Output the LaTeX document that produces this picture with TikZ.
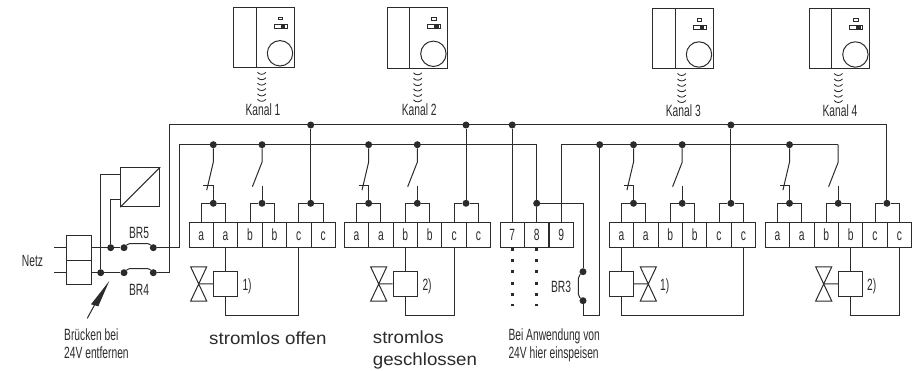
\documentclass[tikz,border=0pt]{standalone}
\usepackage{fontspec}
\setmainfont{Liberation Sans}
\newfontfamily\narrowf[FakeStretch=0.63]{Liberation Sans}
\newfontfamily\widef[FakeStretch=1.07]{Liberation Sans}
\definecolor{ink}{gray}{0.17}
\tikzset{
  wire/.style={draw=ink,line width=1pt},
  dot/.style={circle,fill=ink,inner sep=0pt,minimum size=7pt},
  cell/.style={draw=ink,line width=1pt,inner sep=0pt,minimum width=24.4pt,minimum height=24.4pt,text height=10.5pt,text depth=0pt,text=ink,font=\narrowf\fontsize{16.3}{18}\selectfont},
  coil/.style={draw=ink,line width=1pt,inner sep=0pt,minimum width=24.4pt,minimum height=24.4pt},
  lab/.style={inner sep=0pt,text=ink,font=\narrowf\fontsize{16.3}{18}\selectfont},
  biglab/.style={inner sep=0pt,text=ink,font=\widef\fontsize{17.5}{20}\selectfont},
  dotline/.style={draw=ink,line width=3pt,dash pattern=on 3pt off 8.35pt},
  thin box/.style={draw=ink,line width=1pt,inner sep=0pt},
}
\newcommand{\thermo}[4]{% left x, top y, squiggle offset, name
  \node[thin box,anchor=north west,minimum width=60.5pt,minimum height=60.5pt] (#4) at (#1,#2) {};
  \draw[wire] ({#1+23},#2) -- ({#1+23},{#2+60.5});
  \draw[wire] ({#1+46.7},{#2+46.5}) circle[radius=12.7];
  \draw[wire,line width=0.8pt] ({#1+41},{#2+17.2}) rectangle ({#1+54},{#2+21.2});
  \fill[ink] ({#1+47.5},{#2+17.2}) rectangle ({#1+52},{#2+21.2});
  \draw[wire,line width=0.8pt] ({#1+45},{#2+10.6}) rectangle ({#1+49.5},{#2+13});
  \foreach \q in {0,...,5}
    \draw[wire,line width=0.85pt] ({#1+#3-4.2},{#2+65.5+5.4*\q}) .. controls ({#1+#3-2},{#2+68.2+5.4*\q}) and ({#1+#3+2},{#2+68.2+5.4*\q}) .. ({#1+#3+4.2},{#2+65.5+5.4*\q});
}
\begin{document}
\begin{tikzpicture}[x=1pt,y=-1pt]
\useasboundingbox (0,0) rectangle (917,371);
% thermostats
\thermo{233.3}{6.8}{28.4}{th1}
\thermo{386.7}{7.3}{31}{th2}
\thermo{652.3}{8}{29.4}{th3}
\thermo{808.7}{8}{29.6}{th4}
\node[lab,anchor=base] (k1) at (263,116) {Kanal 1};
\node[lab,anchor=base] (k2) at (419.3,116) {Kanal 2};
\node[lab,anchor=base] (k3) at (683.3,116.5) {Kanal 3};
\node[lab,anchor=base] (k4) at (840,116.5) {Kanal 4};
% terminal groups, rail dots and bracket dots
\foreach \g/\s/\st in {1/189/dot,2/344.3/dot,3/609.2/dot,4/765.2/coordinate}{
  \foreach \i/\t in {1/a,2/a,3/b,4/b,5/c,6/c}
    \node[cell] (g\g c\i) at ({\s+12.2+24.4*(\i-1)},235) {\t};
  \node[dot] (r\g a) at ({\s+24.3},144.7) {};
  \node[\st] (r\g b) at ({\s+73},144.7) {};
  \node[\st] (r\g c) at ({\s+121.7},125) {};
  \node[dot] (b\g a) at ({\s+24.3},203.3) {};
  \node[dot] (b\g b) at ({\s+73},203.3) {};
  \node[dot] (b\g c) at ({\s+121.7},203.3) {};
  \draw[wire] (g\g c1.north) |- (b\g a) -| (g\g c2.north);
  \draw[wire] (g\g c3.north) |- (b\g b) -| (g\g c4.north);
  \draw[wire] (g\g c5.north) |- (b\g c) -| (g\g c6.north);
  \draw[wire] (r\g c) -- (b\g c);
  % normally closed contact
  \draw[wire] (r\g a) -- ++(0,17.5) -- ++(-6.6,28);
  \draw[wire] (b\g a) -- ++(0,-17.3) -- ++(-10,0);
  % normally open contact
  \draw[wire] (r\g b) -- ++(0,17.5) -- ++(-9.6,24.5);
  \draw[wire] (b\g b) -- ++(0,-17.3);
}
% coils and valves
\foreach \g/\from/\ret/\vx/\lx/\lb in {1/2/5/198.7/242.3/1),2/3/5/378.7/422.3/2),3/1/6/648.3/660/1),4/4/6/823.7/867/2)}{
  \node[coil] (coil\g) at (g\g c\from.south |- 0,283.9) {};
  \coordinate (ret\g) at (g\g c\ret.south |- 0,315);
  \draw[wire] (g\g c\from.south) -- (coil\g.north);
  \draw[wire] (coil\g.south) |- (ret\g) -- (g\g c\ret.south);
  \coordinate (val\g) at (\vx,284);
  \draw[wire] ({\vx-8},266.9) -- ({\vx+8},266.9) -- ({\vx-8},301) -- ({\vx+8},301) -- cycle;
  \draw[wire] (val\g) -- (coil\g);
  \node[lab,anchor=base west] (ln\g) at (\lx,290.7) {\lb};
}
% terminals 7 8 9
\foreach \i/\t in {7/7,8/8,9/9}
  \node[cell] (t\i) at ({512.2+24.5*(\i-7)},235) {\t};
\node[dot] (u7) at (t7.north |- 0,125) {};
\node[dot] (b8) at (t8.north |- 0,203.3) {};
\node[dot] (r9) at (599.7,144.7) {};
\coordinate (e7) at (t7.south |- 0,306);
\coordinate (e8) at (t8.south |- 0,306);
\draw[dotline] (t7.south) -- (e7);
\draw[dotline] (t8.south) -- (e8);
\draw[wire] (u7) -- (t7.north);
\draw[wire] (b8) -- (t8.north);
% mains terminal
\node[coil,minimum height=24.5pt] (n1) at (79,248) {};
\node[coil,minimum height=24.5pt] (n2) at (79,272.5) {};
\coordinate (nl1) at (54,247.7);
\coordinate (nl2) at (54,272.7);
\draw[wire] (nl1) -- (n1.west |- nl1);
\draw[wire] (nl2) -- (n2.west |- nl2);
\node[lab,anchor=base west] (netz) at (21.7,266) {Netz};
% jumpers
\node[dot] (j1) at (110.7,247.7) {};
\node[dot] (j2) at (100.7,272.7) {};
\node[dot] (br5l) at (124,247.7) {};
\node[dot] (br5r) at (153.3,247.7) {};
\node[dot] (br4l) at (124,272.7) {};
\node[dot] (br4r) at (153.3,272.7) {};
\draw[wire] (n1.east |- nl1) -- (br5l);
\draw[wire] (n2.east |- nl2) -- (br4l);
\draw[wire,rounded corners=1.5pt] (br5l) -- (128.5,243.5) -- (149,243.5) -- (br5r);
\draw[wire,rounded corners=1.5pt] (br4l) -- (128.5,268.5) -- (149,268.5) -- (br4r);
\node[lab,anchor=base] (lbr5) at (139,238.3) {BR5};
\node[lab,anchor=base] (lbr4) at (139,295) {BR4};
% converter
\node[coil,minimum width=39pt,minimum height=39pt] (conv) at (140.2,187.2) {};
\draw[wire] (conv.south west) -- (conv.north east);
\coordinate (ci1) at (conv.west |- 0,175);
\coordinate (ci2) at (conv.west |- 0,199.3);
\draw[wire] (j2) |- (ci1);
\draw[wire] (j1) |- (ci2);
% rails
\coordinate (uL) at (169,125);
\coordinate (lL) at (179.3,144.7);
\draw[wire] (br4r) -| (uL) -- (r4c);
\draw[wire] (br5r) -| (lL) -- (t8.north |- lL) -- (b8);
\coordinate (l9) at (t9.north |- 0,144.7);
\draw[wire] (t9.north) -- (l9) -- (r4b);
% BR3
\node[dot] (br3t) at (583,271.7) {};
\node[dot] (br3b) at (583,300.7) {};
\coordinate (rb) at (599.7,315);
\draw[wire] (b8) -| (br3t);
\draw[wire] (br3b) |- (rb) -- (r9);
\draw[wire,rounded corners=2pt] (br3t) -- (578.3,276.5) -- (578.3,296) -- (br3b);
\node[lab,anchor=base] (lbr3) at (561,292) {BR3};
% arrow
\coordinate (atip) at (109.3,281);
\coordinate (atail) at (87.3,318.3);
\fill[ink] (atip) -- (91,304.3) -- (98.3,306.3) -- cycle;
\draw[wire] (94.5,305) -- (atail);
% captions
\node[lab,anchor=base west] (c1) at (64,340) {Brücken bei};
\node[lab,anchor=base west] (c2) at (64,358) {24V entfernen};
\node[lab,anchor=base west] (c3) at (508.3,340) {Bei Anwendung von};
\node[lab,anchor=base west] (c4) at (508.3,358) {24V hier einspeisen};
\node[biglab,anchor=base west] (s1) at (209,344.3) {stromlos offen};
\node[biglab,anchor=base west] (s2) at (372.7,343.3) {stromlos};
\node[biglab,anchor=base west] (s3) at (372.7,365.7) {geschlossen};
\end{tikzpicture}
\end{document}
